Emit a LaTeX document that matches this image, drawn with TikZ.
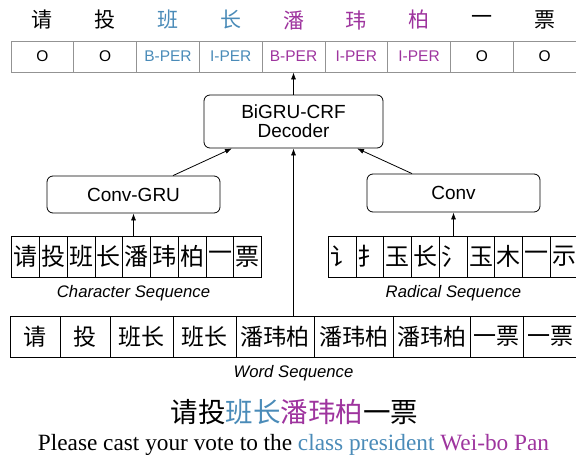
\documentclass[tikz,border=0pt]{standalone}
\usepackage{fontspec}
\setmainfont{Liberation Serif}
\setsansfont{Liberation Sans}
\newfontfamily\cjk{Noto Sans CJK SC}
\usetikzlibrary{arrows.meta}
\definecolor{clsblue}{RGB}{74,139,184}
\definecolor{perpurple}{RGB}{158,52,158}
\newcommand{\tagfont}{\sffamily\fontsize{15.5}{18}\selectfont}
\newcommand{\boxfont}{\sffamily\fontsize{19}{21}\selectfont}
\newcommand{\seqfont}{\sffamily\itshape\fontsize{16.7}{19}\selectfont}
\newcommand{\hanfont}[1]{\cjk\fontsize{#1}{#1}\selectfont}
\newcommand{\drawseq}[3]{
    \foreach \ch [count=\i] in {#3} {
        \node[seqcell] (#1\i) at (#2+27.78*\i-13.89,256.5) {\ch};
    }
}

\begin{document}
\begin{tikzpicture}[x=1pt,y=-1pt,
    tagcell/.style={draw=gray!85,line width=0.8pt,minimum width=62.78pt,minimum height=31pt,inner sep=0pt,font=\tagfont},
    seqcell/.style={draw,line width=1pt,minimum width=27.78pt,minimum height=41pt,inner sep=0pt,font=\hanfont{24}},
    wordcell/.style={draw,line width=1pt,minimum height=41pt,inner sep=0pt,font=\hanfont{23}},
    layer/.style={draw,line width=0.8pt,rounded corners=6pt,inner sep=0pt,font=\boxfont,align=center},
    arr/.style={-{Latex[length=7pt,width=5pt]},line width=0.8pt}]
    \useasboundingbox (0,0) rectangle (576,455);

    \foreach \t/\ch/\c [count=\i] in {O/请/black,O/投/black,B-PER/班/clsblue,I-PER/长/clsblue,B-PER/潘/perpurple,I-PER/玮/perpurple,I-PER/柏/perpurple,O/一/black,O/票/black} {
        \node[tagcell,text=\c] (tag\i) at (11+62.78*\i-31.39,56.5) {\t};
        \node[font=\hanfont{21},text=\c] (top\i) at (11+62.78*\i-31.39,20) {\ch};
    }

    \node[layer,minimum width=179pt,minimum height=53pt] (dec) at (293.5,121.5) {BiGRU-CRF\\[-2pt]Decoder};
    \node[layer,minimum width=173pt,minimum height=37pt] (cgru) at (133.5,194.5) {Conv-GRU};
    \node[layer,minimum width=173pt,minimum height=38pt] (conv) at (453.5,193) {Conv};

    \drawseq{c}{11.7}{请,投,班,长,潘,玮,柏,一,票}
    \drawseq{r}{328.3}{讠,扌,玉,长,氵,玉,木,一,示}

    \node[font=\seqfont] (clab) at (133.5,293) {Character Sequence};
    \node[font=\seqfont] (rlab) at (453.5,293) {Radical Sequence};

    \foreach \l/\r/\w [count=\i] in {10/60/请,60/110/投,110/173/班长,173/236/班长,236/314/潘玮柏,314/393/潘玮柏,393/470/潘玮柏,470/523.5/一票,523.5/577/一票} {
        \pgfmathsetmacro{\cellw}{\r-\l}
        \pgfmathsetmacro{\mx}{(\l+\r)/2}
        \node[wordcell,minimum width=\cellw pt] (w\i) at (\mx,336.5) {\w};
    }
    \node[font=\seqfont] (wlab) at (293.5,373) {Word Sequence};

    \draw[arr] (dec.north) -- (dec.north |- tag5.south);
    \draw[arr] ([xshift=39.5pt]cgru.north) -- ([xshift=-61.5pt]dec.south);
    \draw[arr] ([xshift=-41.5pt]conv.north) -- ([xshift=63.5pt]dec.south);
    \draw[arr] (dec.south |- w5.north) -- (dec.south);
    \draw[arr] (cgru.south |- c5.north) -- (cgru.south);
    \draw[arr] (conv.south |- r5.north) -- (conv.south);

    \node[font=\hanfont{27.5}] (zh) at (294.5,412) {请投\textcolor{clsblue}{班长}\textcolor{perpurple}{潘玮柏}一票};
    \node[font=\fontsize{23.3}{26}\selectfont] (en) at (293.5,445) {Please cast your vote to the \textcolor{clsblue}{class president} \textcolor{perpurple}{Wei-bo Pan}};
\end{tikzpicture}
\end{document}
